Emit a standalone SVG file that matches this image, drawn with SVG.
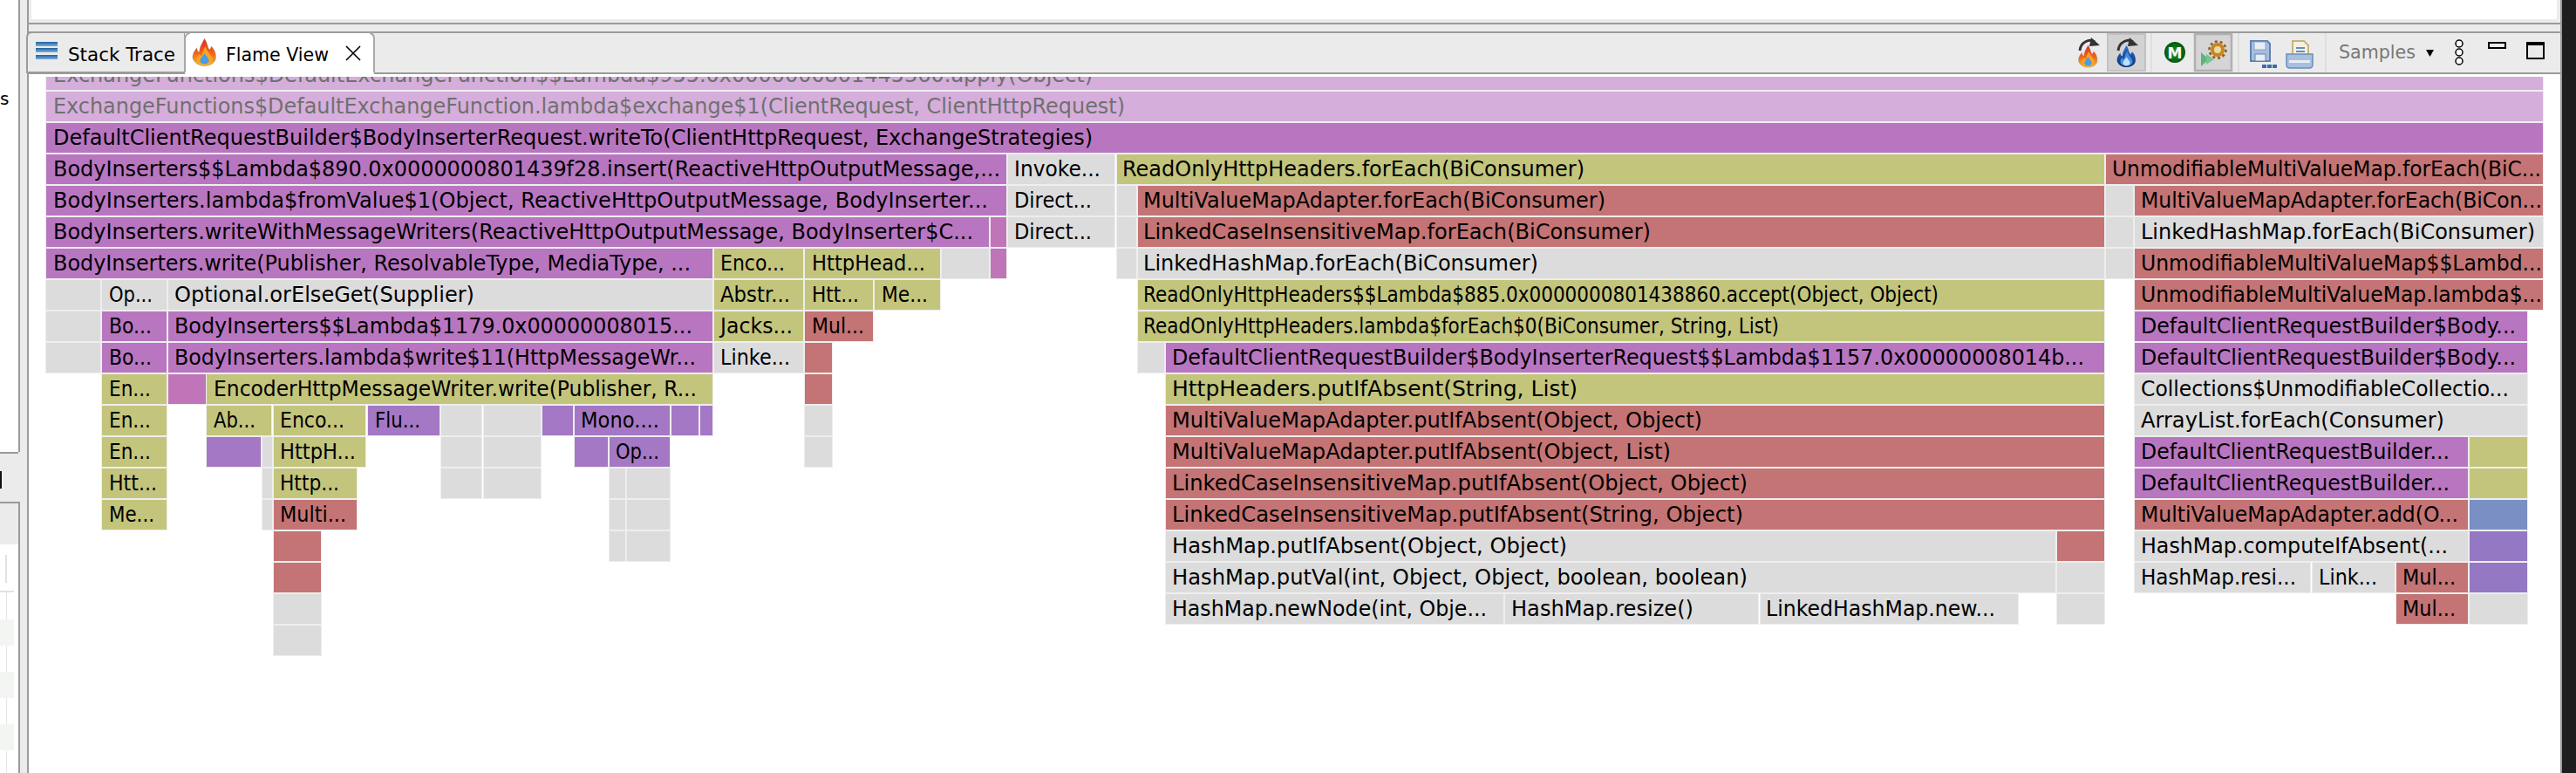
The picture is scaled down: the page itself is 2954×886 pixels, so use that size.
<svg xmlns="http://www.w3.org/2000/svg" width="2954" height="886" viewBox="0 0 2954 886">
<style>
text{font-family:"DejaVu Sans",sans-serif;font-size:24px;fill:#000}
rect.b{height:34px;stroke:#eeeeee;stroke-width:2;paint-order:stroke}
.p{fill:#b976c0}.l{fill:#d5aedb}.o{fill:#c3c57c}.r{fill:#c47474}.g{fill:#dcdcdc}.k{fill:#c075b8}.v{fill:#a478c4}.u{fill:#9478c4}.s{fill:#7a8fc4}
.ln{fill:#9b9b9b}.bg{fill:#ebebeb}
text.f{fill:#707070}
</style>
<defs>
<clipPath id="clipTop"><rect x="0" y="88" width="2954" height="40"/></clipPath>
<linearGradient id="barBlue" x1="0" y1="0" x2="0" y2="1"><stop offset="0" stop-color="#1f5f9e"/><stop offset="1" stop-color="#7fb0dc"/></linearGradient>
<linearGradient id="fireOuter" x1="0" y1="0" x2="0" y2="1"><stop offset="0" stop-color="#e8281a"/><stop offset="0.55" stop-color="#f2651c"/><stop offset="1" stop-color="#f6c22e"/></linearGradient>
<linearGradient id="iceOuter" x1="0" y1="0" x2="0" y2="1"><stop offset="0" stop-color="#2a6fd0"/><stop offset="1" stop-color="#0f2f70"/></linearGradient>
<radialGradient id="mGreen"><stop offset="0" stop-color="#1d9a2a"/><stop offset="1" stop-color="#05560f"/></radialGradient>
<symbol id="flame" viewBox="0 0 28 32" overflow="visible">
<path d="M14 0C18 6 17 10 20 13C22 11 22 10 22 9C27 14 28 20 27 24C26 29 20 32 14 32C7 32 1 28 0 22C0 17 3 13 5 11C5 14 6 15 8 16C8 10 11 6 14 0Z" fill="url(#fireOuter)" stroke="#8a6a4a" stroke-width="0.5"/>
<path d="M15 9C17 14 19 16 21 19C23 22 24 24 22 27C20 31 8 31 6 27C4 24 5 20 8 18C9 20 10 20 11 20C11 16 13 13 15 9Z" fill="#f8a522"/>
<path d="M14 17C16 21 20 23 19 27C18 31 10 31 9 27C8 24 11 22 14 17Z" fill="#4a9be8"/>
</symbol>
<symbol id="bflame" viewBox="0 0 28 32" overflow="visible">
<path d="M14 0C18 6 17 10 20 13C22 11 22 10 22 9C27 14 28 20 27 24C26 29 20 32 14 32C7 32 1 28 0 22C0 17 3 13 5 11C5 14 6 15 8 16C8 10 11 6 14 0Z" fill="url(#iceOuter)"/>
<path d="M15 9C17 14 19 16 21 19C23 22 24 24 22 27C20 31 8 31 6 27C4 24 5 20 8 18C9 20 10 20 11 20C11 16 13 13 15 9Z" fill="#3f8fe0"/>
<path d="M14 17C16 21 20 23 19 27C18 31 10 31 9 27C8 24 11 22 14 17Z" fill="#bfe0f8"/>
</symbol>
</defs>

<rect width="2954" height="886" fill="#ffffff"/>

<g id="window-chrome">
<rect x="21" y="0" width="11" height="886" class="bg"/>
<rect x="21" y="0" width="2" height="518" class="ln"/>
<rect x="21" y="575" width="2" height="311" class="ln"/>
<rect x="31" y="0" width="2" height="886" class="ln"/>
<rect x="33" y="0" width="2904" height="37" class="bg"/>
<rect x="36" y="0" width="2896" height="22" fill="#ffffff"/>
<rect x="31" y="26" width="2906" height="2" class="ln"/>
<rect x="31" y="36" width="2905" height="2" class="ln"/>
<rect x="33" y="38" width="2903" height="45" class="bg"/>
<rect x="31" y="83" width="2906" height="2" class="ln"/>
<rect x="2936" y="0" width="2" height="886" class="ln"/>
<rect x="2938" y="0" width="16" height="886" fill="#1e1e1e"/>
<rect x="0" y="518" width="21" height="2" class="ln"/>
<rect x="0" y="520" width="21" height="104" class="bg"/>
<rect x="0" y="575" width="21" height="2" class="ln"/>
<rect x="0" y="540" width="2" height="20" fill="#111111"/>
<rect x="0" y="624" width="16" height="262" fill="#ffffff"/>
<rect x="6" y="636" width="2" height="32" fill="#e2e2e2"/>
<rect x="0" y="677" width="16" height="2" fill="#e2e2e2"/>
<rect x="7" y="679" width="1" height="207" fill="#e6e6e6"/>
<rect x="0" y="710" width="16" height="30" fill="#f3f5f3"/>
<rect x="0" y="770" width="16" height="30" fill="#f3f5f3"/>
<rect x="0" y="830" width="16" height="30" fill="#f3f5f3"/>
<text x="0" y="120" style="font-size:20px">s</text>
</g>

<g id="tab-stack-trace">
<path d="M31 83V43Q31 37 37 37H212V83Z" fill="#ebebeb" stroke="#9b9b9b" stroke-width="2"/>
<rect x="41" y="48" width="25" height="5" fill="url(#barBlue)"/>
<rect x="41" y="55" width="25" height="5" fill="url(#barBlue)"/>
<rect x="41" y="63" width="25" height="5" fill="url(#barBlue)"/>
<text x="78" y="70" style="font-size:22px" textLength="123" lengthAdjust="spacingAndGlyphs">Stack Trace</text>
</g>
<g id="tab-flame-view">
<path d="M212 85V38H424Q429 38 429 44V85Z" fill="#ffffff"/>
<path d="M212 83V44Q213 38 218 38M429 83V44Q429 39 424 38" fill="none" stroke="#a8a8a8" stroke-width="2"/>
<use href="#flame" x="221" y="44" width="27" height="32"/>
<text x="259" y="70" style="font-size:22px" textLength="118" lengthAdjust="spacingAndGlyphs">Flame View</text>
<path d="M397 53L413 69M413 53L397 69" stroke="#000" stroke-width="1.6" fill="none"/>
</g>

<g id="toolbar">
<g id="btn-flame">
<use href="#flame" x="2383" y="52" width="23" height="25"/>
<path d="M2385 58C2386 48 2396 44 2402 48" fill="none" stroke="#333" stroke-width="3"/>
<path d="M2398 43L2408 52L2396 53Z" fill="#333"/>
</g>
<g id="btn-flame-inverse">
<rect x="2417" y="39" width="43" height="42" fill="#d2d2d2" stroke="#c2c2c2" stroke-width="2"/>
<use href="#bflame" x="2427" y="52" width="23" height="25"/>
<path d="M2429 58C2430 48 2440 44 2446 48" fill="none" stroke="#333" stroke-width="3"/>
<path d="M2442 43L2452 52L2440 53Z" fill="#333"/>
</g>
<rect x="2466" y="38" width="2" height="45" fill="#dedede"/>
<g id="btn-m">
<circle cx="2494" cy="60" r="12" fill="url(#mGreen)"/>
<text x="2494" y="67" text-anchor="middle" style="font-size:17px;font-weight:bold;fill:#fff">M</text>
</g>
<g id="btn-gear">
<rect x="2517" y="39" width="42" height="42" fill="#d5d5d5" stroke="#b0b0b0" stroke-width="2.500"/>
<circle cx="2543" cy="57" r="6" fill="#e9d9a8" stroke="#c8851e" stroke-width="4"/>
<circle cx="2543" cy="57" r="9.500" fill="none" stroke="#8a5c22" stroke-width="2.500" stroke-dasharray="3 2.900"/>
<path d="M2524 60L2533 68L2524 76Z" fill="#5db57a"/>
<path d="M2530 62L2539 68L2530 74Z" fill="#78c492"/>
</g>
<rect x="2566" y="38" width="2" height="45" fill="#dedede"/>
<g id="btn-save">
<path d="M2581 47H2600L2603 50V70H2581Z" fill="#a8bedc" stroke="#5f83b3" stroke-width="2"/>
<rect x="2585" y="48" width="13" height="9" fill="#e8eef6" stroke="#8aa5c8"/>
<rect x="2586" y="62" width="12" height="8" fill="#e8eef6" stroke="#5f83b3"/>
<rect x="2594" y="74" width="5" height="4" fill="#3a6ab0"/>
<rect x="2600" y="74" width="5" height="4" fill="#3a6ab0"/>
<rect x="2606" y="74" width="5" height="4" fill="#3a6ab0"/>
</g>
<g id="btn-print">
<path d="M2629 47H2642L2647 52V63H2629Z" fill="#f4f0e6" stroke="#c8b478" stroke-width="2"/>
<path d="M2633 55H2643M2633 59H2643" stroke="#6a8dbb" stroke-width="2"/>
<path d="M2622 62H2652V74Q2652 78 2648 78H2626Q2622 78 2622 74Z" fill="#a9c0de" stroke="#6a8dbb" stroke-width="1.500"/>
<rect x="2625" y="69" width="24" height="3" fill="#e8eef6"/>
</g>
<rect x="2666" y="38" width="2" height="45" fill="#dedede"/>
<text x="2682" y="67" style="font-size:22px;fill:#777" textLength="88" lengthAdjust="spacingAndGlyphs">Samples</text>
<path d="M2782 57H2791L2786.500 65Z" fill="#000"/>
<g fill="#fff" stroke="#000" stroke-width="1.500">
<circle cx="2820" cy="50" r="4"/><circle cx="2820" cy="60" r="4"/><circle cx="2820" cy="70" r="4"/>
</g>
<rect x="2854" y="49" width="19" height="6" fill="#ebebeb" stroke="#000" stroke-width="2"/>
<rect x="2898" y="49" width="19" height="18" fill="#ebebeb" stroke="#000" stroke-width="2"/>
<rect x="2898" y="49" width="19" height="3" fill="#000"/>
</g>

<g id="flame-graph" lengthAdjust="spacingAndGlyphs">
<g id="row-clipped" clip-path="url(#clipTop)">
<g transform="translate(0,69)"><rect class="b l" x="53" width="2863"/><text class="f" x="61" y="25" textLength="1192" lengthAdjust="spacingAndGlyphs">ExchangeFunctions$DefaultExchangeFunction$$Lambda$955.0x0000000801445360.apply(Object)</text></g>
</g>
<g id="row0" transform="translate(0,105)"><rect class="b l" x="53" width="2863"/><text class="f" x="61" y="25" textLength="1229" lengthAdjust="spacingAndGlyphs">ExchangeFunctions$DefaultExchangeFunction.lambda$exchange$1(ClientRequest, ClientHttpRequest)</text></g>
<g id="row1" transform="translate(0,141)"><rect class="b p" x="53" width="2863"/><text x="61" y="25" textLength="1192" lengthAdjust="spacingAndGlyphs">DefaultClientRequestBuilder$BodyInserterRequest.writeTo(ClientHttpRequest, ExchangeStrategies)</text></g>

<g id="row2" transform="translate(0,177)">
<rect class="b p" x="53" width="1101"/><text x="61" y="25" textLength="1086" lengthAdjust="spacingAndGlyphs">BodyInserters$$Lambda$890.0x0000000801439f28.insert(ReactiveHttpOutputMessage,...</text>
<rect class="b g" x="1156" width="122"/><text x="1163" y="25" textLength="99" lengthAdjust="spacingAndGlyphs">Invoke...</text>
<rect class="b o" x="1281" width="1132"/><text x="1287" y="25" textLength="530" lengthAdjust="spacingAndGlyphs">ReadOnlyHttpHeaders.forEach(BiConsumer)</text>
<rect class="b r" x="2415" width="501"/><text x="2422" y="25" textLength="492" lengthAdjust="spacingAndGlyphs">UnmodifiableMultiValueMap.forEach(BiC...</text>
</g>
<g id="row3" transform="translate(0,213)">
<rect class="b p" x="53" width="1101"/><text x="61" y="25" textLength="1072" lengthAdjust="spacingAndGlyphs">BodyInserters.lambda$fromValue$1(Object, ReactiveHttpOutputMessage, BodyInserter...</text>
<rect class="b g" x="1156" width="122"/><text x="1163" y="25" textLength="89" lengthAdjust="spacingAndGlyphs">Direct...</text>
<rect class="b g" x="1281" width="22"/>
<rect class="b r" x="1305" width="1108"/><text x="1311" y="25" textLength="530" lengthAdjust="spacingAndGlyphs">MultiValueMapAdapter.forEach(BiConsumer)</text>
<rect class="b g" x="2415" width="31"/>
<rect class="b r" x="2448" width="468"/><text x="2455" y="25" textLength="460" lengthAdjust="spacingAndGlyphs">MultiValueMapAdapter.forEach(BiCon...</text>
</g>
<g id="row4" transform="translate(0,249)">
<rect class="b p" x="53" width="1081"/><text x="61" y="25" textLength="1055" lengthAdjust="spacingAndGlyphs">BodyInserters.writeWithMessageWriters(ReactiveHttpOutputMessage, BodyInserter$C...</text>
<rect class="b k" x="1136" width="18"/>
<rect class="b g" x="1156" width="122"/><text x="1163" y="25" textLength="89" lengthAdjust="spacingAndGlyphs">Direct...</text>
<rect class="b g" x="1281" width="22"/>
<rect class="b r" x="1305" width="1108"/><text x="1311" y="25" textLength="582" lengthAdjust="spacingAndGlyphs">LinkedCaseInsensitiveMap.forEach(BiConsumer)</text>
<rect class="b g" x="2415" width="31"/>
<rect class="b g" x="2448" width="468"/><text x="2455" y="25" textLength="452" lengthAdjust="spacingAndGlyphs">LinkedHashMap.forEach(BiConsumer)</text>
</g>
<g id="row5" transform="translate(0,285)">
<rect class="b p" x="53" width="764"/><text x="61" y="25" textLength="731" lengthAdjust="spacingAndGlyphs">BodyInserters.write(Publisher, ResolvableType, MediaType, ...</text>
<rect class="b o" x="819" width="102"/><text x="826" y="25" textLength="74" lengthAdjust="spacingAndGlyphs">Enco...</text>
<rect class="b o" x="923" width="155"/><text x="931" y="25" textLength="130" lengthAdjust="spacingAndGlyphs">HttpHead...</text>
<rect class="b g" x="1080" width="54"/>
<rect class="b k" x="1136" width="18"/>
<rect class="b g" x="1281" width="22"/>
<rect class="b g" x="1305" width="1108"/><text x="1311" y="25" textLength="453" lengthAdjust="spacingAndGlyphs">LinkedHashMap.forEach(BiConsumer)</text>
<rect class="b g" x="2415" width="31"/>
<rect class="b r" x="2448" width="468"/><text x="2455" y="25" textLength="460" lengthAdjust="spacingAndGlyphs">UnmodifiableMultiValueMap$$Lambd...</text>
</g>
<g id="row6" transform="translate(0,321)">
<rect class="b g" x="53" width="62"/>
<rect class="b g" x="117" width="74"/><text x="125" y="25" textLength="50" lengthAdjust="spacingAndGlyphs">Op...</text>
<rect class="b g" x="193" width="624"/><text x="200" y="25" textLength="344" lengthAdjust="spacingAndGlyphs">Optional.orElseGet(Supplier)</text>
<rect class="b o" x="819" width="102"/><text x="826" y="25" textLength="80" lengthAdjust="spacingAndGlyphs">Abstr...</text>
<rect class="b o" x="923" width="78"/><text x="931" y="25" textLength="54" lengthAdjust="spacingAndGlyphs">Htt...</text>
<rect class="b o" x="1003" width="75"/><text x="1011" y="25" textLength="53" lengthAdjust="spacingAndGlyphs">Me...</text>
<rect class="b o" x="1305" width="1108"/><text x="1311" y="25" textLength="912" lengthAdjust="spacingAndGlyphs">ReadOnlyHttpHeaders$$Lambda$885.0x0000000801438860.accept(Object, Object)</text>
<rect class="b r" x="2448" width="468"/><text x="2455" y="25" textLength="460" lengthAdjust="spacingAndGlyphs">UnmodifiableMultiValueMap.lambda$...</text>
</g>
<g id="row7" transform="translate(0,357)">
<rect class="b g" x="53" width="62"/>
<rect class="b p" x="117" width="74"/><text x="125" y="25" textLength="49" lengthAdjust="spacingAndGlyphs">Bo...</text>
<rect class="b p" x="193" width="624"/><text x="200" y="25" textLength="594" lengthAdjust="spacingAndGlyphs">BodyInserters$$Lambda$1179.0x00000008015...</text>
<rect class="b o" x="819" width="102"/><text x="826" y="25" textLength="83" lengthAdjust="spacingAndGlyphs">Jacks...</text>
<rect class="b r" x="923" width="78"/><text x="931" y="25" textLength="60" lengthAdjust="spacingAndGlyphs">Mul...</text>
<rect class="b o" x="1305" width="1108"/><text x="1311" y="25" textLength="729" lengthAdjust="spacingAndGlyphs">ReadOnlyHttpHeaders.lambda$forEach$0(BiConsumer, String, List)</text>
<rect class="b p" x="2448" width="450"/><text x="2455" y="25" textLength="430" lengthAdjust="spacingAndGlyphs">DefaultClientRequestBuilder$Body...</text>
</g>
<g id="row8" transform="translate(0,393)">
<rect class="b g" x="53" width="62"/>
<rect class="b p" x="117" width="74"/><text x="125" y="25" textLength="49" lengthAdjust="spacingAndGlyphs">Bo...</text>
<rect class="b p" x="193" width="624"/><text x="200" y="25" textLength="598" lengthAdjust="spacingAndGlyphs">BodyInserters.lambda$write$11(HttpMessageWr...</text>
<rect class="b g" x="819" width="102"/><text x="826" y="25" textLength="80" lengthAdjust="spacingAndGlyphs">Linke...</text>
<rect class="b r" x="923" width="31"/>
<rect class="b g" x="1305" width="30"/>
<rect class="b p" x="1337" width="1076"/><text x="1344" y="25" textLength="1046" lengthAdjust="spacingAndGlyphs">DefaultClientRequestBuilder$BodyInserterRequest$$Lambda$1157.0x00000008014b...</text>
<rect class="b p" x="2448" width="450"/><text x="2455" y="25" textLength="430" lengthAdjust="spacingAndGlyphs">DefaultClientRequestBuilder$Body...</text>
</g>
<g id="row9" transform="translate(0,429)">
<rect class="b o" x="117" width="74"/><text x="125" y="25" textLength="48" lengthAdjust="spacingAndGlyphs">En...</text>
<rect class="b k" x="193" width="43"/>
<rect class="b o" x="237" width="580"/><text x="245" y="25" textLength="554" lengthAdjust="spacingAndGlyphs">EncoderHttpMessageWriter.write(Publisher, R...</text>
<rect class="b r" x="923" width="31"/>
<rect class="b o" x="1337" width="1076"/><text x="1344" y="25" textLength="465" lengthAdjust="spacingAndGlyphs">HttpHeaders.putIfAbsent(String, List)</text>
<rect class="b g" x="2448" width="450"/><text x="2455" y="25" textLength="422" lengthAdjust="spacingAndGlyphs">Collections$UnmodifiableCollectio...</text>
</g>
<g id="row10" transform="translate(0,465)">
<rect class="b o" x="117" width="74"/><text x="125" y="25" textLength="48" lengthAdjust="spacingAndGlyphs">En...</text>
<rect class="b o" x="237" width="74"/><text x="245" y="25" textLength="48" lengthAdjust="spacingAndGlyphs">Ab...</text>
<rect class="b o" x="314" width="105"/><text x="321" y="25" textLength="74" lengthAdjust="spacingAndGlyphs">Enco...</text>
<rect class="b v" x="422" width="82"/><text x="430" y="25" textLength="52" lengthAdjust="spacingAndGlyphs">Flu...</text>
<rect class="b g" x="506" width="46"/>
<rect class="b g" x="555" width="65"/>
<rect class="b v" x="622" width="35"/>
<rect class="b v" x="659" width="109"/><text x="666" y="25" textLength="90" lengthAdjust="spacingAndGlyphs">Mono....</text>
<rect class="b v" x="770" width="31"/>
<rect class="b v" x="803" width="14"/>
<rect class="b g" x="923" width="31"/>
<rect class="b r" x="1337" width="1076"/><text x="1344" y="25" textLength="608" lengthAdjust="spacingAndGlyphs">MultiValueMapAdapter.putIfAbsent(Object, Object)</text>
<rect class="b g" x="2448" width="450"/><text x="2455" y="25" textLength="348" lengthAdjust="spacingAndGlyphs">ArrayList.forEach(Consumer)</text>
</g>
<g id="row11" transform="translate(0,501)">
<rect class="b o" x="117" width="74"/><text x="125" y="25" textLength="48" lengthAdjust="spacingAndGlyphs">En...</text>
<rect class="b v" x="237" width="62"/>
<rect class="b g" x="301" width="11"/>
<rect class="b o" x="314" width="105"/><text x="321" y="25" textLength="87" lengthAdjust="spacingAndGlyphs">HttpH...</text>
<rect class="b g" x="506" width="46"/>
<rect class="b g" x="555" width="65"/>
<rect class="b v" x="659" width="38"/>
<rect class="b v" x="699" width="69"/><text x="706" y="25" textLength="50" lengthAdjust="spacingAndGlyphs">Op...</text>
<rect class="b g" x="923" width="31"/>
<rect class="b r" x="1337" width="1076"/><text x="1344" y="25" textLength="572" lengthAdjust="spacingAndGlyphs">MultiValueMapAdapter.putIfAbsent(Object, List)</text>
<rect class="b p" x="2448" width="382"/><text x="2455" y="25" textLength="354" lengthAdjust="spacingAndGlyphs">DefaultClientRequestBuilder...</text>
<rect class="b o" x="2832" width="66"/>
</g>
<g id="row12" transform="translate(0,537)">
<rect class="b o" x="117" width="74"/><text x="125" y="25" textLength="55" lengthAdjust="spacingAndGlyphs">Htt...</text>
<rect class="b g" x="301" width="11"/>
<rect class="b o" x="314" width="95"/><text x="321" y="25" textLength="68" lengthAdjust="spacingAndGlyphs">Http...</text>
<rect class="b g" x="506" width="46"/>
<rect class="b g" x="555" width="65"/>
<rect class="b g" x="699" width="18"/>
<rect class="b g" x="719" width="49"/>
<rect class="b r" x="1337" width="1076"/><text x="1344" y="25" textLength="660" lengthAdjust="spacingAndGlyphs">LinkedCaseInsensitiveMap.putIfAbsent(Object, Object)</text>
<rect class="b p" x="2448" width="382"/><text x="2455" y="25" textLength="354" lengthAdjust="spacingAndGlyphs">DefaultClientRequestBuilder...</text>
<rect class="b o" x="2832" width="66"/>
</g>
<g id="row13" transform="translate(0,573)">
<rect class="b o" x="117" width="74"/><text x="125" y="25" textLength="52" lengthAdjust="spacingAndGlyphs">Me...</text>
<rect class="b g" x="301" width="11"/>
<rect class="b r" x="314" width="95"/><text x="321" y="25" textLength="76" lengthAdjust="spacingAndGlyphs">Multi...</text>
<rect class="b g" x="699" width="18"/>
<rect class="b g" x="719" width="49"/>
<rect class="b r" x="1337" width="1076"/><text x="1344" y="25" textLength="655" lengthAdjust="spacingAndGlyphs">LinkedCaseInsensitiveMap.putIfAbsent(String, Object)</text>
<rect class="b r" x="2448" width="382"/><text x="2455" y="25" textLength="364" lengthAdjust="spacingAndGlyphs">MultiValueMapAdapter.add(O...</text>
<rect class="b s" x="2832" width="66"/>
</g>
<g id="row14" transform="translate(0,609)">
<rect class="b r" x="314" width="54"/>
<rect class="b g" x="699" width="18"/>
<rect class="b g" x="719" width="49"/>
<rect class="b g" x="1337" width="1020"/><text x="1344" y="25" textLength="453" lengthAdjust="spacingAndGlyphs">HashMap.putIfAbsent(Object, Object)</text>
<rect class="b r" x="2359" width="54"/>
<rect class="b g" x="2448" width="382"/><text x="2455" y="25" textLength="352" lengthAdjust="spacingAndGlyphs">HashMap.computeIfAbsent(...</text>
<rect class="b u" x="2832" width="66"/>
</g>
<g id="row15" transform="translate(0,645)">
<rect class="b r" x="314" width="54"/>
<rect class="b g" x="1337" width="1020"/><text x="1344" y="25" textLength="660" lengthAdjust="spacingAndGlyphs">HashMap.putVal(int, Object, Object, boolean, boolean)</text>
<rect class="b g" x="2359" width="54"/>
<rect class="b g" x="2448" width="201"/><text x="2455" y="25" textLength="178" lengthAdjust="spacingAndGlyphs">HashMap.resi...</text>
<rect class="b g" x="2652" width="94"/><text x="2659" y="25" textLength="67" lengthAdjust="spacingAndGlyphs">Link...</text>
<rect class="b r" x="2748" width="82"/><text x="2755" y="25" textLength="61" lengthAdjust="spacingAndGlyphs">Mul...</text>
<rect class="b u" x="2832" width="66"/>
</g>
<g id="row16" transform="translate(0,681)">
<rect class="b g" x="314" width="54"/>
<rect class="b g" x="1337" width="387"/><text x="1344" y="25" textLength="361" lengthAdjust="spacingAndGlyphs">HashMap.newNode(int, Obje...</text>
<rect class="b g" x="1726" width="290"/><text x="1733" y="25" textLength="209" lengthAdjust="spacingAndGlyphs">HashMap.resize()</text>
<rect class="b g" x="2019" width="295"/><text x="2025" y="25" textLength="263" lengthAdjust="spacingAndGlyphs">LinkedHashMap.new...</text>
<rect class="b g" x="2359" width="54"/>
<rect class="b r" x="2748" width="82"/><text x="2755" y="25" textLength="61" lengthAdjust="spacingAndGlyphs">Mul...</text>
<rect class="b g" x="2832" width="66"/>
</g>
<g id="row17" transform="translate(0,717)">
<rect class="b g" x="314" width="54"/>
</g>
</g>
</svg>
